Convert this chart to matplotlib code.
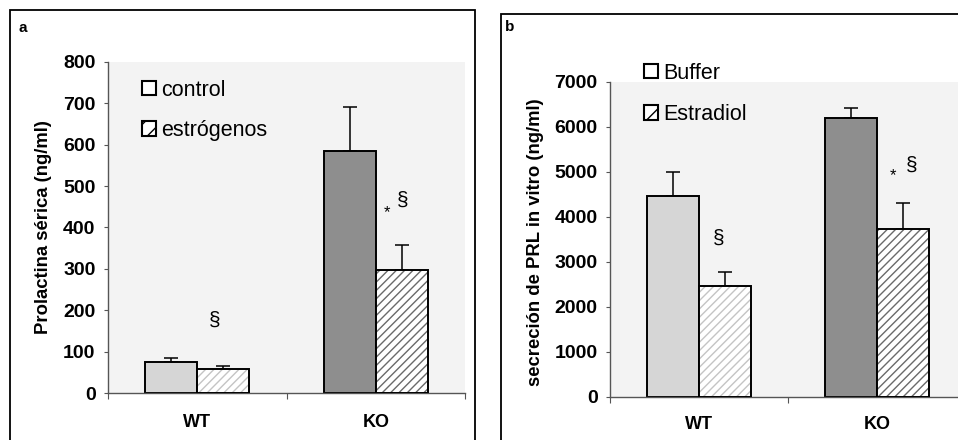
import numpy as np
import matplotlib.pyplot as plt
from matplotlib.patches import Patch, Rectangle

plt.rcParams['font.family'] = ['Liberation Sans', 'DejaVu Sans']

groups = ['WT', 'KO']

# panel a - serum prolactin
a_control = [76, 586]
a_control_err = [9, 106]
a_estr = [57, 297]
a_estr_err = [9, 60]

# panel b - PRL secretion in vitro
b_buffer = [4460, 6190]
b_buffer_err = [530, 230]
b_estr = [2460, 3720]
b_estr_err = [300, 580]

W, H = 958, 440
fig = plt.figure(figsize=(W / 100, H / 100), dpi=100)

def px_axes(x0, x1, y0, y1):
    return fig.add_axes([x0 / W, (H - y0) / H, (x1 - x0) / W, (y0 - y1) / H])

# panel frames
fig.patches.append(Rectangle((10 / W, -0.1), 465 / W, (H - 10) / H + 0.1,
                             transform=fig.transFigure, fill=False, lw=1.3, ec='black'))
fig.patches.append(Rectangle((501 / W, -0.1), 500 / W, (H - 14) / H + 0.1,
                             transform=fig.transFigure, fill=False, lw=1.3, ec='black'))

ctrl_col = ['#d6d6d6', '#8e8e8e']
hatch_col = ['#c4c4c4', '#6a6a6a']
bw = 0.29


def draw(ax, ctrl, ctrl_err, estr, estr_err, ymax, step, ylabel):
    x = np.arange(len(groups))
    ax.set_facecolor('#f3f3f3')
    for i in range(len(groups)):
        ax.bar(x[i] - bw / 2, ctrl[i], bw, color=ctrl_col[i], edgecolor='black', lw=1.4, zorder=2)
        ax.bar(x[i] + bw / 2, estr[i], bw, color='white', edgecolor=hatch_col[i],
               hatch='////', lw=0, zorder=2)
        ax.bar(x[i] + bw / 2, estr[i], bw, fill=False, edgecolor='black', lw=1.4, zorder=3)
        ax.errorbar(x[i] - bw / 2, ctrl[i], yerr=[[0], [ctrl_err[i]]], fmt='none',
                    ecolor='black', elinewidth=1.1, capsize=5, capthick=1.1, zorder=1)
        ax.errorbar(x[i] + bw / 2, estr[i], yerr=[[0], [estr_err[i]]], fmt='none',
                    ecolor='black', elinewidth=1.1, capsize=5, capthick=1.1, zorder=1)
    ax.set_xlim(-0.5, 1.5)
    ax.set_ylim(0, ymax)
    ax.set_yticks(np.arange(0, ymax + 1, step))
    ax.set_xticks([-0.5, 0.5, 1.5])
    ax.set_xticklabels([])
    for i, g in enumerate(groups):
        ax.text(x[i], -0.088 * ymax, g, ha='center', va='center',
                fontsize=13, fontweight='bold')
    for s in ['top', 'right']:
        ax.spines[s].set_visible(False)
    for s in ['left', 'bottom']:
        ax.spines[s].set_color('#555555')
        ax.spines[s].set_linewidth(1.0)
    ax.tick_params(axis='y', length=3, width=0.8, color='#555555', labelsize=14, pad=6)
    ax.tick_params(axis='x', length=4, width=0.8, color='#555555')
    for lb in ax.get_yticklabels():
        lb.set_fontweight('bold')
    ax.set_ylabel(ylabel, fontsize=13.3, fontweight='bold')


ax1 = px_axes(108, 465, 393, 62)
draw(ax1, a_control, a_control_err, a_estr, a_estr_err, 800, 100, 'Prolactina sérica (ng/ml)')
ax1.yaxis.set_label_coords(-0.157, 0.5)
ax1.text(0.10, 176, '§', fontsize=15, ha='center', va='center')
ax1.text(1.063, 435, '*', fontsize=12, ha='center', va='center')
ax1.text(1.153, 466, '§', fontsize=15, ha='center', va='center')
fig.text(23 / W, 1 - 28 / H, 'a', fontsize=11, fontweight='bold', ha='center', va='center')

ax2 = px_axes(610, 966, 396.7, 81.7)
draw(ax2, b_buffer, b_buffer_err, b_estr, b_estr_err, 7000, 1000, 'secreción de PRL in vitro (ng/ml)')
ax2.yaxis.set_label_coords(-0.185, 0.49)
ax2.text(0.112, 3527, '§', fontsize=15, ha='center', va='center')
ax2.text(1.092, 4920, '*', fontsize=12, ha='center', va='center')
ax2.text(1.193, 5149, '§', fontsize=15, ha='center', va='center')
fig.text(510 / W, 1 - 27 / H, 'b', fontsize=11, fontweight='bold', ha='center', va='center')

leg_a = [Patch(facecolor='white', edgecolor='black', lw=1.5, label='control'),
         Patch(facecolor='white', edgecolor='black', lw=1.5, hatch='//', label='estrógenos')]
fig.legend(handles=leg_a, loc='upper left', bbox_to_anchor=(131 / W, 1 - 69 / H),
           frameon=False, fontsize=15.5, handlelength=0.65, handleheight=0.65,
           handletextpad=0.25, labelspacing=0.9, borderpad=0)

leg_b = [Patch(facecolor='white', edgecolor='black', lw=1.5, label='Buffer'),
         Patch(facecolor='white', edgecolor='black', lw=1.5, hatch='//', label='Estradiol')]
fig.legend(handles=leg_b, loc='upper left', bbox_to_anchor=(633 / W, 1 - 52 / H),
           frameon=False, fontsize=15.5, handlelength=0.65, handleheight=0.65,
           handletextpad=0.25, labelspacing=0.95, borderpad=0)

fig.savefig('out.png', dpi=100)
